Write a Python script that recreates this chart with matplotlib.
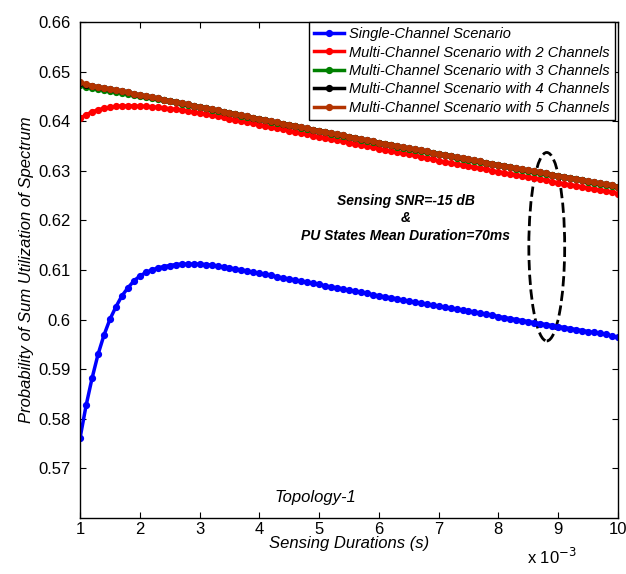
import matplotlib
matplotlib.use("Agg")
import matplotlib.pyplot as plt
from matplotlib.patches import Ellipse
from matplotlib.ticker import FuncFormatter

plt.rcParams['font.family'] = ['Liberation Sans', 'DejaVu Sans']

# sensing durations, 1 ms .. 10 ms in 0.1 ms steps (seconds)
durations_ms = [round(1.0 + 0.1 * i, 1) for i in range(91)]
durations = [d * 1e-3 for d in durations_ms]

single_ch = [
    0.5762, 0.5827, 0.5882, 0.5930, 0.5969, 0.6001, 0.6026, 0.6048, 0.6064, 0.6078,
    0.6088, 0.6095, 0.6100, 0.6104, 0.6107, 0.6109, 0.6111, 0.6112, 0.6112, 0.6112,
    0.6112, 0.6111, 0.6110, 0.6108, 0.6106, 0.6104, 0.6102, 0.6100, 0.6098, 0.6095,
    0.6093, 0.6091, 0.6089, 0.6086, 0.6084, 0.6082, 0.6080, 0.6077, 0.6075, 0.6073,
    0.6071, 0.6068, 0.6066, 0.6064, 0.6062, 0.6059, 0.6057, 0.6055, 0.6053, 0.6050,
    0.6048, 0.6046, 0.6044, 0.6042, 0.6039, 0.6037, 0.6035, 0.6033, 0.6031, 0.6029,
    0.6027, 0.6025, 0.6023, 0.6021, 0.6019, 0.6017, 0.6015, 0.6013, 0.6011, 0.6009,
    0.6006, 0.6004, 0.6002, 0.6000, 0.5998, 0.5996, 0.5994, 0.5992, 0.5990, 0.5988,
    0.5986, 0.5984, 0.5982, 0.5980, 0.5978, 0.5976, 0.5974, 0.5972, 0.5970, 0.5967,
    0.5964,
]

multi_ch2 = [
    0.6406, 0.6413, 0.6419, 0.6423, 0.6426, 0.6428, 0.6430, 0.6431, 0.6431, 0.6431,
    0.6430, 0.6430, 0.6429, 0.6428, 0.6427, 0.6425, 0.6424, 0.6422, 0.6420, 0.6418,
    0.6416, 0.6414, 0.6412, 0.6410, 0.6408, 0.6405, 0.6403, 0.6401, 0.6398, 0.6396,
    0.6393, 0.6391, 0.6388, 0.6386, 0.6384, 0.6381, 0.6379, 0.6376, 0.6374, 0.6371,
    0.6369, 0.6367, 0.6364, 0.6362, 0.6360, 0.6357, 0.6355, 0.6353, 0.6350, 0.6348,
    0.6345, 0.6342, 0.6340, 0.6338, 0.6335, 0.6333, 0.6331, 0.6328, 0.6326, 0.6323,
    0.6320, 0.6318, 0.6316, 0.6313, 0.6311, 0.6309, 0.6307, 0.6305, 0.6303, 0.6300,
    0.6298, 0.6296, 0.6294, 0.6292, 0.6289, 0.6287, 0.6285, 0.6283, 0.6281, 0.6278,
    0.6276, 0.6274, 0.6272, 0.6270, 0.6268, 0.6265, 0.6263, 0.6261, 0.6259, 0.6257,
    0.6254,
]

multi_ch3 = [
    0.6474, 0.6469, 0.6466, 0.6464, 0.6462, 0.6460, 0.6459, 0.6457, 0.6455, 0.6453,
    0.6451, 0.6449, 0.6447, 0.6445, 0.6442, 0.6440, 0.6438, 0.6435, 0.6433, 0.6430,
    0.6428, 0.6426, 0.6423, 0.6421, 0.6418, 0.6416, 0.6414, 0.6411, 0.6409, 0.6406,
    0.6404, 0.6402, 0.6399, 0.6397, 0.6394, 0.6392, 0.6390, 0.6387, 0.6385, 0.6382,
    0.6380, 0.6378, 0.6375, 0.6373, 0.6371, 0.6368, 0.6366, 0.6363, 0.6361, 0.6359,
    0.6356, 0.6354, 0.6352, 0.6349, 0.6347, 0.6345, 0.6342, 0.6340, 0.6338, 0.6335,
    0.6333, 0.6331, 0.6329, 0.6326, 0.6324, 0.6322, 0.6320, 0.6318, 0.6315, 0.6313,
    0.6311, 0.6309, 0.6307, 0.6304, 0.6302, 0.6300, 0.6298, 0.6296, 0.6294, 0.6291,
    0.6289, 0.6287, 0.6285, 0.6283, 0.6281, 0.6278, 0.6276, 0.6274, 0.6272, 0.6270,
    0.6267,
]

multi_ch4 = [
    0.6478, 0.6474, 0.6471, 0.6469, 0.6467, 0.6465, 0.6463, 0.6460, 0.6458, 0.6455,
    0.6453, 0.6451, 0.6448, 0.6446, 0.6443, 0.6441, 0.6439, 0.6436, 0.6434, 0.6431,
    0.6429, 0.6427, 0.6424, 0.6422, 0.6419, 0.6417, 0.6415, 0.6412, 0.6410, 0.6407,
    0.6405, 0.6403, 0.6400, 0.6398, 0.6395, 0.6393, 0.6391, 0.6388, 0.6386, 0.6383,
    0.6381, 0.6379, 0.6376, 0.6374, 0.6372, 0.6369, 0.6367, 0.6364, 0.6362, 0.6360,
    0.6357, 0.6355, 0.6353, 0.6350, 0.6348, 0.6346, 0.6343, 0.6341, 0.6339, 0.6336,
    0.6334, 0.6332, 0.6330, 0.6327, 0.6325, 0.6323, 0.6321, 0.6319, 0.6316, 0.6314,
    0.6312, 0.6310, 0.6308, 0.6305, 0.6303, 0.6301, 0.6299, 0.6297, 0.6295, 0.6292,
    0.6290, 0.6288, 0.6286, 0.6284, 0.6282, 0.6279, 0.6277, 0.6275, 0.6273, 0.6271,
    0.6268,
]

multi_ch5 = [
    0.6479, 0.6475, 0.6472, 0.6469, 0.6467, 0.6465, 0.6463, 0.6460, 0.6458, 0.6455,
    0.6453, 0.6451, 0.6448, 0.6446, 0.6443, 0.6441, 0.6439, 0.6436, 0.6434, 0.6431,
    0.6429, 0.6427, 0.6424, 0.6422, 0.6419, 0.6417, 0.6415, 0.6412, 0.6410, 0.6407,
    0.6405, 0.6403, 0.6400, 0.6398, 0.6395, 0.6393, 0.6391, 0.6388, 0.6386, 0.6383,
    0.6381, 0.6379, 0.6376, 0.6374, 0.6372, 0.6369, 0.6367, 0.6364, 0.6362, 0.6360,
    0.6357, 0.6355, 0.6353, 0.6350, 0.6348, 0.6346, 0.6343, 0.6341, 0.6339, 0.6336,
    0.6334, 0.6332, 0.6330, 0.6327, 0.6325, 0.6323, 0.6321, 0.6319, 0.6316, 0.6314,
    0.6312, 0.6310, 0.6308, 0.6305, 0.6303, 0.6301, 0.6299, 0.6297, 0.6295, 0.6292,
    0.6290, 0.6288, 0.6286, 0.6284, 0.6282, 0.6279, 0.6277, 0.6275, 0.6273, 0.6271,
    0.6268,
]

labels = ['Single-Channel Scenario',
          'Multi-Channel Scenario with 2 Channels',
          'Multi-Channel Scenario with 3 Channels',
          'Multi-Channel Scenario with 4 Channels',
          'Multi-Channel Scenario with 5 Channels']
colors = ['#0000ff', '#ff0000', '#008000', '#000000', '#b33300']
series = [single_ch, multi_ch2, multi_ch3, multi_ch4, multi_ch5]

x_ticks = [1, 2, 3, 4, 5, 6, 7, 8, 9, 10]
y_ticks = [0.57, 0.58, 0.59, 0.60, 0.61, 0.62, 0.63, 0.64, 0.65, 0.66]

fig = plt.figure(figsize=(6.26, 5.74), dpi=100)
ax = fig.add_axes([0.128, 0.0976, 0.859, 0.864])

for vals, lab, col in zip(series, labels, colors):
    ax.plot(durations, vals, color=col, lw=2.5, marker='o', ms=4.2,
            mec=col, mfc=col, label=lab)

ax.set_xlim(0.001, 0.010)
ax.set_ylim(0.56, 0.66)
ax.set_xticks([t * 1e-3 for t in x_ticks])
ax.set_yticks(y_ticks)
ax.xaxis.set_major_formatter(FuncFormatter(lambda v, p: '%g' % round(v * 1e3, 6)))
ax.yaxis.set_major_formatter(FuncFormatter(lambda v, p: '%g' % round(v, 4)))
ax.tick_params(direction='in', length=4, width=0.8, top=True, right=True,
               labelsize=12)
ax.tick_params(axis='y', pad=7)
ax.tick_params(axis='x', pad=3)
for s in ax.spines.values():
    s.set_linewidth(1.0)

ax.set_xlabel('Sensing Durations (s)', fontsize=12, style='italic', labelpad=-1)
ax.set_ylabel('Probability of Sum Utilization of Spectrum', fontsize=12,
              style='italic', labelpad=3)

fig.text(0.842, 0.018, r'x 10$^{-3}$', fontsize=12)

leg = ax.legend(loc='upper right', bbox_to_anchor=(0.995, 1.0), borderaxespad=0,
                numpoints=1, handlelength=2.0, labelspacing=0.3,
                borderpad=0.35, handletextpad=0.4,
                fancybox=False, framealpha=1, edgecolor='black',
                prop={'style': 'italic', 'size': 10.5})
leg.get_frame().set_linewidth(1.0)

ax.text(6.45e-3, 0.6204, 'Sensing SNR=-15 dB\n&\nPU States Mean Duration=70ms',
        ha='center', va='center', fontsize=10, fontweight='bold',
        style='italic', linespacing=1.3)

ax.add_patch(Ellipse((8.81e-3, 0.6147), width=0.6e-3, height=0.038,
                     fill=False, ls='--', lw=2, ec='black'))

ax.text(4.93e-3, 0.5642, 'Topology-1', ha='center', va='center',
        fontsize=12, style='italic')

fig.savefig('out.png', dpi=100)
